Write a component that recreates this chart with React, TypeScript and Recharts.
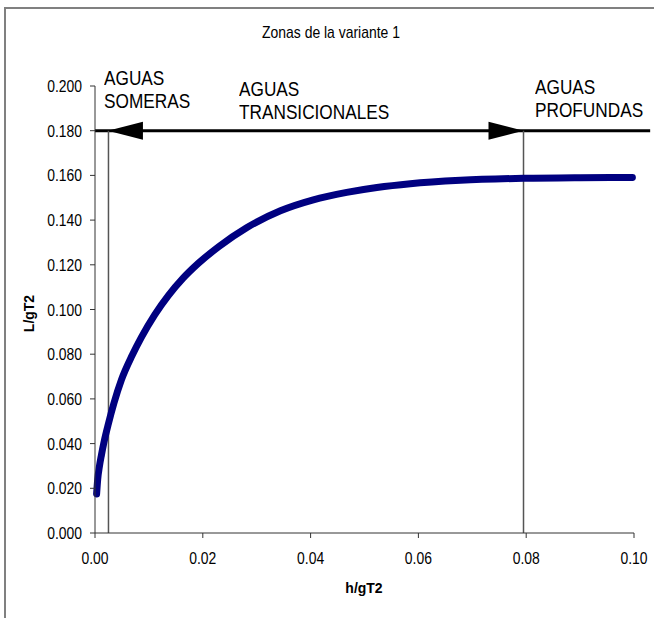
import React from "react";
import {
  LineChart,
  Line,
  XAxis,
  YAxis,
  ReferenceLine,
  ReferenceDot,
} from "recharts";

// values
const hgT2 = [
  0.0003, 0.0005, 0.0008, 0.0012, 0.0017, 0.0025, 0.0035, 0.0049, 0.0069,
  0.0086, 0.0111, 0.0136, 0.0163, 0.0191, 0.023, 0.0282, 0.0344, 0.0405,
  0.0467, 0.0523, 0.0585, 0.0678, 0.0795, 0.09, 0.0997,
];
const LgT2 = [
  0.0175, 0.024, 0.0295, 0.035, 0.041, 0.049, 0.058, 0.0685, 0.0795, 0.0875,
  0.0977, 0.1062, 0.1139, 0.1205, 0.1282, 0.1367, 0.1442, 0.1491, 0.1524,
  0.1546, 0.1563, 0.1578, 0.1587, 0.159, 0.1591,
];
const xTicks = [0, 0.02, 0.04, 0.06, 0.08, 0.1];
const yTicks = [0, 0.02, 0.04, 0.06, 0.08, 0.1, 0.12, 0.14, 0.16, 0.18, 0.2];

// zone limits and the arrow level
const shallowLimit = 0.0025;
const deepLimit = 0.0795;
const arrowLevel = 0.18;
const arrowEnd = 0.103;

const data = hgT2.map((x, i) => ({ x, y: LgT2[i] }));

const FONT = "'Liberation Sans', Arial, sans-serif";
const NARROW = 0.82;

const arrowHead = (dir: number) => (props: any) => {
  const { cx, cy } = props;
  const len = 35;
  const half = 9;
  const pts = `${cx},${cy} ${cx - dir * len},${cy - half} ${cx - dir * len},${cy + half}`;
  return <polygon points={pts} fill="#000" />;
};

const XTick = (props: any) => {
  const { x, y, payload } = props;
  return (
    <text
      transform={`translate(${x},${y}) scale(${NARROW},1)`}
      textAnchor="middle"
      dy="0.71em"
      fontSize={17}
      fontFamily={FONT}
      fill="#000"
    >
      {Number(payload.value).toFixed(2)}
    </text>
  );
};

const YTick = (props: any) => {
  const { x, y, payload } = props;
  return (
    <text
      transform={`translate(${x},${y}) scale(${NARROW},1)`}
      textAnchor="end"
      dy="0.355em"
      fontSize={17}
      fontFamily={FONT}
      fill="#000"
    >
      {Number(payload.value).toFixed(3)}
    </text>
  );
};

const txt = (left: number, top: number, size: number, extra: React.CSSProperties = {}) =>
  ({
    position: "absolute",
    left,
    top,
    fontFamily: FONT,
    fontSize: size,
    lineHeight: `${Math.round(size * 1.1)}px`,
    color: "#000",
    whiteSpace: "nowrap",
    transform: `scaleX(${NARROW})`,
    transformOrigin: "left top",
    ...extra,
  }) as React.CSSProperties;

export default function App() {
  return (
    <div style={{ position: "absolute", left: 0, top: 0, width: 654, height: 618, background: "#fff", overflow: "hidden" }}>
      <div
        style={{
          position: "absolute",
          left: 4,
          top: 7,
          width: 700,
          height: 700,
          borderLeft: "2px solid #808080",
          borderTop: "2px solid #808080",
        }}
      />
      <LineChart
        width={654}
        height={618}
        data={data}
        margin={{ top: 86, right: 20, bottom: 55, left: 35 }}
        style={{ position: "absolute", left: 0, top: 0 }}
      >
        <XAxis
          type="number"
          dataKey="x"
          domain={[0, 0.1]}
          ticks={xTicks}
          height={30}
          stroke="#333"
          tickSize={5}
          tickMargin={14}
          tick={<XTick />}
        />
        <YAxis
          type="number"
          domain={[0, 0.2]}
          ticks={yTicks}
          width={60}
          stroke="#333"
          tickSize={5}
          tickMargin={8}
          tick={<YTick />}
        />
        <ReferenceLine
          segment={[
            { x: 0, y: arrowLevel },
            { x: arrowEnd, y: arrowLevel },
          ]}
          stroke="#000"
          strokeWidth={3}
          ifOverflow="visible"
        />
        <ReferenceLine
          segment={[
            { x: shallowLimit, y: arrowLevel },
            { x: shallowLimit, y: 0 },
          ]}
          stroke="#555"
          strokeWidth={1.5}
          ifOverflow="visible"
        />
        <ReferenceLine
          segment={[
            { x: deepLimit, y: arrowLevel },
            { x: deepLimit, y: 0 },
          ]}
          stroke="#555"
          strokeWidth={1.5}
          ifOverflow="visible"
        />
        <ReferenceDot x={shallowLimit - 0.0001} y={arrowLevel} shape={arrowHead(-1)} ifOverflow="visible" />
        <ReferenceDot x={deepLimit} y={arrowLevel} shape={arrowHead(1)} ifOverflow="visible" />
        <Line
          type="monotone"
          dataKey="y"
          stroke="#000080"
          strokeWidth={7}
          strokeLinecap="round"
          strokeLinejoin="round"
          dot={false}
          isAnimationActive={false}
        />
      </LineChart>

      <div style={txt(0, 23, 17, { width: 662, textAlign: "center", transformOrigin: "center top" })}>
        Zonas de la variante 1
      </div>

      <div style={txt(104, 66, 21)}>
        AGUAS
        <br />
        SOMERAS
      </div>
      <div style={txt(239, 77, 21)}>
        AGUAS
        <br />
        TRANSICIONALES
      </div>
      <div style={txt(535, 75, 21)}>
        AGUAS
        <br />
        PROFUNDAS
      </div>

      <div
        style={txt(314, 580, 14, {
          width: 100,
          textAlign: "center",
          fontWeight: "bold",
          lineHeight: "17px",
          transform: "none",
        })}
      >
        h/gT2
      </div>
      <div
        style={txt(-21, 305, 14, {
          width: 100,
          textAlign: "center",
          fontWeight: "bold",
          lineHeight: "17px",
          transform: "rotate(-90deg)",
          transformOrigin: "center center",
        })}
      >
        L/gT2
      </div>
    </div>
  );
}
